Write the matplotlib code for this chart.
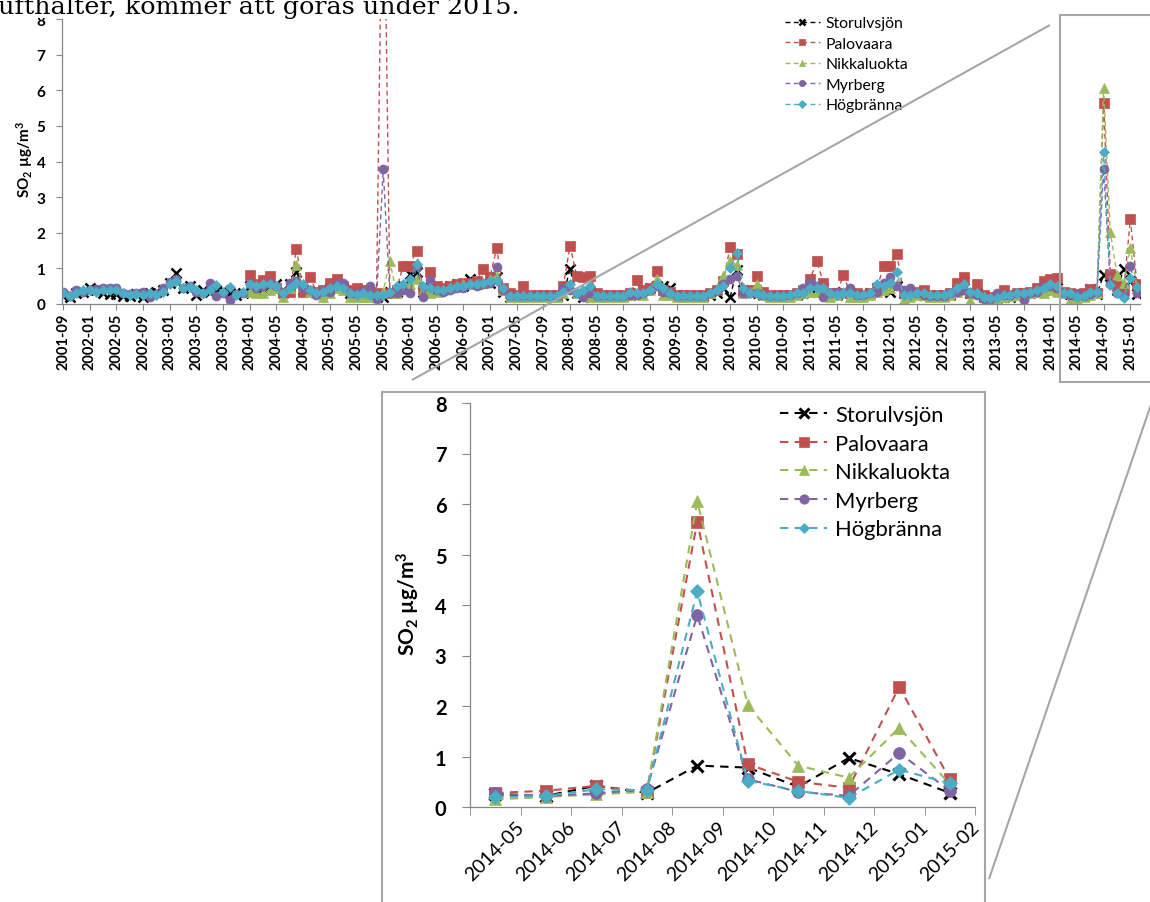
import numpy as np
import pandas as pd
import matplotlib
matplotlib.use("Agg")
import matplotlib.pyplot as plt
from matplotlib.lines import Line2D
from matplotlib.patches import Rectangle
from matplotlib.transforms import ScaledTranslation

nan = np.nan

# monthly means, 2001-09 .. 2015-02
months = pd.period_range("2001-09", "2015-02", freq="M").strftime("%Y-%m").tolist()

storulvsjon = [
    0.22, 0.20, 0.30, 0.35,                                                   # 2001
    0.45, 0.38, 0.30, 0.28, 0.27, 0.22, 0.22, 0.28, 0.20, 0.30, 0.35, 0.38,   # 2002
    0.60, 0.87, 0.45, 0.50, 0.25, 0.40, 0.35, 0.38, 0.40, 0.30, 0.25, 0.30,   # 2003
    0.50, 0.40, 0.45, 0.50, 0.55, 0.40, 0.55, 0.90, 0.40, 0.35, 0.35, 0.30,   # 2004
    0.45, 0.50, 0.45, 0.30, 0.25, 0.25, 0.30, 0.20, 0.20, 0.35, 0.35, 0.50,   # 2005
    0.84, 0.89, 0.35, 0.45, 0.40, 0.45, 0.50, 0.55, 0.50, 0.70, 0.55, 0.60,   # 2006
    0.60, 0.75, 0.35, 0.20, 0.22, 0.22, 0.22, 0.22, 0.22, 0.22, 0.22, 0.25,   # 2007
    0.98, 0.30, 0.20, 0.35, 0.25, 0.22, 0.22, 0.22, 0.22, 0.25, 0.30, 0.40,   # 2008
    0.45, 0.50, 0.50, 0.45, 0.25, 0.22, 0.22, 0.22, 0.22, 0.25, 0.30, 0.45,   # 2009
    0.19, 0.95, 0.40, 0.30, 0.35, 0.25, 0.22, 0.22, 0.22, 0.25, 0.25, 0.30,   # 2010
    0.35, 0.45, 0.45, 0.30, 0.25, 0.35, 0.30, 0.25, 0.25, 0.30, 0.45, 0.45,   # 2011
    0.35, 0.50, 0.30, 0.30, 0.25, 0.25, 0.22, 0.22, 0.22, 0.25, 0.40, 0.45,   # 2012
    0.30, 0.30, 0.20, 0.18, 0.18, 0.20, 0.20, 0.25, 0.30, 0.30, 0.35, 0.40,   # 2013
    0.45, 0.45, 0.30, 0.28, 0.25, 0.22, 0.42, 0.28, 0.82, 0.78, 0.40, 0.97,   # 2014
    0.65, 0.28,                                                               # 2015
]

palovaara = [nan] * 28 + [
    0.82, 0.55, 0.68, 0.80, 0.45, 0.30, 0.35, 1.55, 0.35, 0.75, 0.35, 0.40,   # 2004
    0.60, 0.70, 0.50, 0.40, 0.45, 0.40, 0.35, 0.30, 14.0, 0.30, 0.40, 1.08,   # 2005
    1.08, 1.50, 0.40, 0.89, 0.50, 0.45, 0.50, 0.55, 0.60, 0.60, 0.65, 0.98,   # 2006
    0.75, 1.56, 0.45, 0.30, 0.25, 0.50, 0.25, 0.25, 0.25, 0.25, 0.25, 0.50,   # 2007
    1.64, 0.80, 0.75, 0.80, 0.30, 0.25, 0.25, 0.25, 0.25, 0.30, 0.66, 0.40,   # 2008
    0.45, 0.94, 0.40, 0.35, 0.25, 0.25, 0.25, 0.25, 0.25, 0.30, 0.40, 0.65,   # 2009
    1.59, 1.40, 0.35, 0.40, 0.79, 0.35, 0.25, 0.25, 0.25, 0.25, 0.30, 0.40,   # 2010
    0.70, 1.20, 0.60, 0.30, 0.30, 0.81, 0.30, 0.30, 0.25, 0.30, 0.40, 1.08,   # 2011
    1.08, 1.40, 0.30, 0.35, 0.35, 0.40, 0.25, 0.25, 0.25, 0.30, 0.60, 0.75,   # 2012
    0.30, 0.55, 0.25, 0.20, 0.20, 0.40, 0.25, 0.30, 0.30, 0.35, 0.45, 0.65,   # 2013
    0.70, 0.72, 0.35, 0.30, 0.28, 0.32, 0.42, 0.30, 5.65, 0.85, 0.50, 0.38,   # 2014
    2.38, 0.55,                                                               # 2015
]

nikkaluokta = [nan] * 28 + [
    0.35, 0.30, 0.30, 0.40, 0.45, 0.20, 0.45, 1.10, 0.50, 0.35, 0.30, 0.20,   # 2004
    0.30, 0.45, 0.40, 0.20, 0.20, 0.20, 0.20, 0.25, 0.35, 1.20, 0.30, 0.45,   # 2005
    0.55, 0.70, 0.40, 0.30, 0.35, 0.40, 0.45, 0.50, 0.55, 0.55, 0.55, 0.60,   # 2006
    0.70, 0.80, 0.40, 0.20, 0.20, 0.20, 0.20, 0.20, 0.20, 0.20, 0.20, 0.30,   # 2007
    0.45, 0.30, 0.25, 0.20, 0.20, 0.20, 0.20, 0.20, 0.20, 0.25, 0.30, 0.25,   # 2008
    0.40, 0.70, 0.25, 0.25, 0.20, 0.20, 0.20, 0.20, 0.20, 0.30, 0.45, 0.80,   # 2009
    1.20, 1.10, 0.30, 0.35, 0.55, 0.25, 0.20, 0.20, 0.20, 0.20, 0.25, 0.30,   # 2010
    0.35, 0.35, 0.45, 0.20, 0.25, 0.35, 0.20, 0.20, 0.20, 0.25, 0.35, 0.40,   # 2011
    0.45, 0.55, 0.15, 0.20, 0.25, 0.25, 0.20, 0.20, 0.20, 0.25, 0.35, 0.45,   # 2012
    0.10, 0.30, 0.20, 0.18, 0.18, 0.20, 0.22, 0.25, 0.25, 0.30, 0.35, 0.30,   # 2013
    0.40, 0.35, 0.30, 0.10, 0.15, 0.20, 0.25, 0.30, 6.05, 2.02, 0.82, 0.58,   # 2014
    1.57, 0.45,                                                               # 2015
]

myrberg = [
    0.35, 0.22, 0.40, 0.35,                                                   # 2001
    0.40, 0.42, 0.45, 0.45, 0.45, 0.30, 0.28, 0.30, 0.35, 0.20, 0.28, 0.45,   # 2002
    0.62, 0.70, 0.45, 0.50, 0.35, 0.30, 0.58, 0.22, 0.30, 0.12, 0.28, 0.32,   # 2003
    0.55, 0.45, 0.50, 0.60, 0.50, 0.30, 0.60, 0.65, 0.45, 0.40, 0.25, 0.40,   # 2004
    0.35, 0.55, 0.60, 0.30, 0.30, 0.35, 0.50, 0.15, 3.78, 0.30, 0.30, 0.40,   # 2005
    0.30, 1.07, 0.20, 0.68, 0.40, 0.35, 0.40, 0.45, 0.45, 0.55, 0.50, 0.55,   # 2006
    0.60, 1.03, 0.40, 0.22, 0.22, 0.22, 0.22, 0.22, 0.22, 0.22, 0.22, 0.45,   # 2007
    0.40, 0.30, 0.20, 0.30, 0.22, 0.22, 0.22, 0.22, 0.22, 0.25, 0.25, 0.30,   # 2008
    0.40, 0.50, 0.35, 0.30, 0.22, 0.22, 0.22, 0.22, 0.22, 0.30, 0.40, 0.55,   # 2009
    0.70, 0.80, 0.30, 0.30, 0.30, 0.25, 0.22, 0.22, 0.22, 0.25, 0.30, 0.45,   # 2010
    0.62, 0.50, 0.20, 0.30, 0.35, 0.30, 0.45, 0.25, 0.25, 0.30, 0.35, 0.60,   # 2011
    0.75, 0.50, 0.40, 0.45, 0.30, 0.25, 0.22, 0.22, 0.22, 0.30, 0.35, 0.40,   # 2012
    0.30, 0.25, 0.15, 0.15, 0.30, 0.25, 0.25, 0.30, 0.10, 0.30, 0.35, 0.50,   # 2013
    0.50, 0.45, 0.30, 0.25, 0.27, 0.22, 0.27, 0.35, 3.80, 0.55, 0.30, 0.22,   # 2014
    1.07, 0.32,                                                               # 2015
]

hogbranna = [
    0.30, 0.22, 0.30, 0.38,                                                   # 2001
    0.38, 0.35, 0.40, 0.38, 0.38, 0.30, 0.25, 0.28, 0.25, 0.30, 0.25, 0.35,   # 2002
    0.55, 0.65, 0.45, 0.48, 0.38, 0.30, 0.40, 0.52, 0.35, 0.48, 0.25, 0.35,   # 2003
    0.55, 0.50, 0.55, 0.55, 0.50, 0.30, 0.45, 0.60, 0.55, 0.40, 0.30, 0.35,   # 2004
    0.45, 0.50, 0.45, 0.30, 0.25, 0.30, 0.25, 0.25, 0.25, 0.35, 0.50, 0.55,   # 2005
    0.70, 1.12, 0.50, 0.45, 0.40, 0.40, 0.45, 0.50, 0.50, 0.55, 0.55, 0.60,   # 2006
    0.65, 0.65, 0.45, 0.22, 0.22, 0.22, 0.22, 0.22, 0.22, 0.22, 0.22, 0.35,   # 2007
    0.55, 0.30, 0.40, 0.50, 0.22, 0.22, 0.22, 0.22, 0.22, 0.35, 0.30, 0.30,   # 2008
    0.40, 0.55, 0.45, 0.30, 0.22, 0.22, 0.22, 0.22, 0.22, 0.30, 0.40, 0.50,   # 2009
    1.00, 1.43, 0.45, 0.30, 0.30, 0.25, 0.22, 0.22, 0.22, 0.25, 0.30, 0.30,   # 2010
    0.45, 0.45, 0.45, 0.30, 0.25, 0.30, 0.30, 0.25, 0.25, 0.30, 0.55, 0.50,   # 2011
    0.60, 0.89, 0.25, 0.25, 0.30, 0.30, 0.25, 0.25, 0.25, 0.30, 0.45, 0.55,   # 2012
    0.35, 0.30, 0.20, 0.18, 0.18, 0.25, 0.25, 0.30, 0.30, 0.35, 0.40, 0.45,   # 2013
    0.55, 0.50, 0.30, 0.30, 0.20, 0.22, 0.35, 0.33, 4.27, 0.52, 0.32, 0.18,   # 2014
    0.74, 0.47,                                                               # 2015
]

stations = ["Storulvsjön", "Palovaara", "Nikkaluokta", "Myrberg", "Högbränna"]
series = [storulvsjon, palovaara, nikkaluokta, myrberg, hogbranna]
colors = ["#000000", "#C0504D", "#9BBB59", "#8064A2", "#4BACC6"]
markers = ["x", "s", "^", "o", "D"]
msizes = [1.0, 1.0, 1.1, 1.0, 0.8]

# last ten months shown enlarged
zoom_start = months.index("2014-05")

plt.rcParams["font.family"] = ["Lato", "DejaVu Sans"]
plt.rcParams["mathtext.fontset"] = "custom"
plt.rcParams["mathtext.rm"] = "Lato:bold"
plt.rcParams["mathtext.it"] = "Lato:bold:italic"
plt.rcParams["mathtext.bf"] = "Lato:bold"

W, H = 1150, 903
GREY = "#a6a6a6"
AXGREY = "#868686"


def fx(x):
    return x / W


def fy(y):
    return 1 - y / H


def fig_line(x0, y0, x1, y1, lw=1.5, color=GREY):
    fig.add_artist(Line2D([fx(x0), fx(x1)], [fy(y0), fy(y1)], lw=lw,
                          color=color, transform=fig.transFigure,
                          solid_capstyle="butt"))


fig = plt.figure(figsize=(W / 100, H / 100), dpi=100)


def style_axes(ax):
    for s in ("top", "right"):
        ax.spines[s].set_visible(False)
    for s in ("left", "bottom"):
        ax.spines[s].set_color(AXGREY)
        ax.spines[s].set_linewidth(0.9)
    ax.set_ylim(0, 8)
    ax.set_yticks(range(0, 9))


# full period
ax = fig.add_axes([fx(62), fy(305), (1140 - 62) / W, (305 - 20) / H])
style_axes(ax)
x = np.arange(len(months))
for name, vals, c, m, k in zip(stations, series, colors, markers, msizes):
    ax.plot(x, vals, ls=(0, (3.5, 2.5)), lw=1.0, color=c, marker=m,
            ms=6.5 * k, mfc=c, mec=c, mew=1.8 if m == "x" else 0.5,
            label=name)
ax.set_xlim(-0.15, 161.45)
ax.set_xticks(x[::4])
ax.set_xticklabels(months[::4], rotation=90, fontsize=10.5, fontweight="bold")
ax.tick_params(axis="x", length=4, color=AXGREY, pad=2)
ax.tick_params(axis="y", length=4, color=AXGREY, pad=8, labelsize=11)
for t in ax.get_yticklabels():
    t.set_fontweight("bold")
fig.text(fx(25), fy(160), r"SO$_2$ µg/m$^3$", rotation=90, fontsize=11,
         fontweight="bold", ha="center", va="center")
ax.legend(loc="upper left", bbox_to_anchor=(fx(785), fy(17)),
          bbox_transform=fig.transFigure, frameon=False, fontsize=11.3,
          handlelength=2.2, handletextpad=0.4, labelspacing=0.42,
          borderpad=0, borderaxespad=0, numpoints=1, markerscale=0.7)

# page text above the chart, its white box hides the top of the axis
fig.add_artist(Rectangle((0, fy(19)), fx(530), 1 - fy(19), facecolor="white",
                         edgecolor="none", transform=fig.transFigure, zorder=5))
fig.text(fx(-10), fy(14), "lufthalter, kommer att göras under 2015.",
         family="DejaVu Serif", fontsize=18.3, va="baseline", ha="left",
         zorder=6)

# enlarged last months
ax2 = fig.add_axes([fx(470), fy(808), 505 / W, 404 / H])
style_axes(ax2)
x2 = np.arange(len(months) - zoom_start)
for name, vals, c, m, k in zip(stations, series, colors, markers, msizes):
    ax2.plot(x2, vals[zoom_start:], ls=(0, (4, 3)), lw=1.5, color=c,
             marker=m, ms=8.5 * k, mfc=c, mec=c,
             mew=2.2 if m == "x" else 0.5, label=name)
ax2.set_xlim(-0.5, len(x2) - 0.5)
ax2.set_xticks(x2)
ax2.set_xticklabels(months[zoom_start:], rotation=45, fontsize=14,
                    ha="center", va="top")
shift = ScaledTranslation(-12 / 100, 0, fig.dpi_scale_trans)
for t in ax2.get_xticklabels():
    t.set_transform(t.get_transform() + shift)
ax2.set_xticks(np.arange(-0.5, len(x2)), minor=True)
ax2.tick_params(axis="x", which="major", length=0, pad=8)
ax2.tick_params(axis="x", which="minor", length=6, color=AXGREY)
ax2.tick_params(axis="y", length=6, color=AXGREY, pad=11, labelsize=14.5)
for t in ax2.get_yticklabels():
    t.set_fontweight("bold")
fig.text(fx(408), fy(604), r"SO$_2$ µg/m$^3$", rotation=90, fontsize=15,
         fontweight="bold", ha="center", va="center")
ax2.legend(loc="upper left", bbox_to_anchor=(fx(780), fy(406)),
           bbox_transform=fig.transFigure, frameon=False, fontsize=15.8,
           handlelength=2.15, handletextpad=0.35, labelspacing=0.39,
           borderpad=0, borderaxespad=0, numpoints=1, markerscale=0.8)

# zoom box on the full period and its frame around the enlargement
fig_line(1060, 16, 1060, 383)
fig_line(1059, 16, 1152, 16)
fig_line(1059, 383, 1152, 383)
fig_line(382, 393, 382, 905)
fig_line(381, 393, 986, 393)
fig_line(985, 393, 985, 905)
fig_line(412, 381, 1050, 26)
fig_line(1158, 385, 989, 880)

fig.savefig("out.png", dpi=100)
